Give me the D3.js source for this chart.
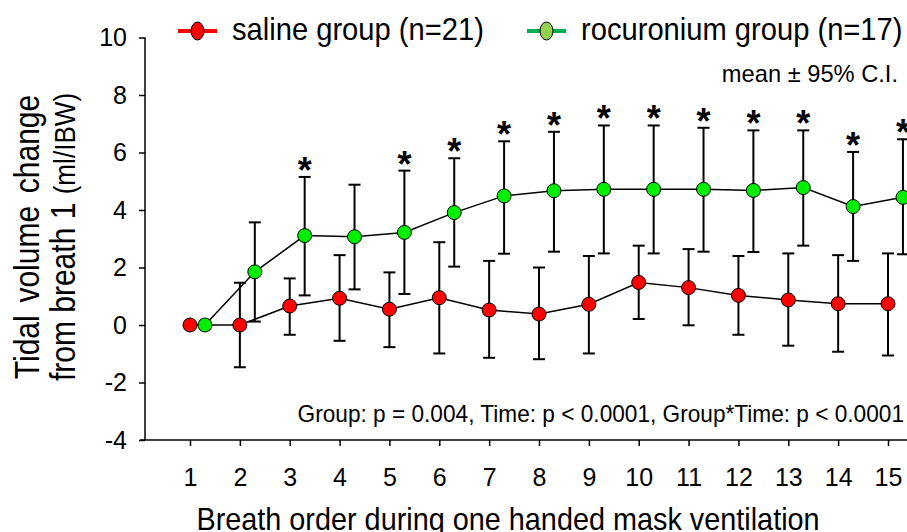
<!DOCTYPE html>
<html>
<head>
<meta charset="utf-8">
<script src="https://cdn.jsdelivr.net/npm/d3@7"></script>
<style>
  body { margin: 0; background: #fff; }
  svg { display: block; font-family: "Liberation Sans", Arial, sans-serif; }
</style>
</head>
<body>
<script>
// breath numbers and group values (ml/IBW, change from breath 1)
const breaths = [1, 2, 3, 4, 5, 6, 7, 8, 9, 10, 11, 12, 13, 14, 15];
const salineMean = [0, 0, 0.66, 0.93, 0.55, 0.95, 0.52, 0.38, 0.72, 1.48, 1.30, 1.03, 0.87, 0.74, 0.74];
const salineLow = [null, -1.47, -0.34, -0.55, -0.77, -0.99, -1.14, -1.19, -0.99, 0.21, -0.01, -0.34, -0.72, -0.93, -1.06];
const salineHigh = [null, 1.47, 1.62, 2.43, 1.83, 2.88, 2.23, 2.00, 2.40, 2.76, 2.64, 2.40, 2.49, 2.43, 2.49];
const rocMean = [0, 1.85, 3.11, 3.07, 3.22, 3.91, 4.49, 4.67, 4.72, 4.72, 4.72, 4.68, 4.78, 4.12, 4.44];
const rocLow = [null, 0.12, 1.03, 1.24, 1.08, 2.03, 2.48, 2.55, 2.49, 2.49, 2.55, 2.54, 2.76, 2.23, 2.46];
const rocHigh = [null, 3.57, 5.15, 4.88, 5.37, 5.80, 6.39, 6.72, 6.94, 6.94, 6.86, 6.77, 6.77, 6.02, 6.46];
const significant = [3, 5, 6, 7, 8, 9, 10, 11, 12, 13, 14, 15];
const yTicks = [-4, -2, 0, 2, 4, 6, 8, 10];

const width = 907, height = 532;
const svg = d3.select("body").append("svg").attr("width", width).attr("height", height);

const x = d3.scaleLinear().domain([1, 15]).range([190, 888]);
const y = d3.scaleLinear().domain([-4, 10]).range([440, 37.5]);
const shift = 0.3; // rocuronium points are drawn a little to the right

function series(mean, low, high, dx) {
  return breaths.map((b, i) => ({ b: b + dx, m: mean[i], lo: low[i], hi: high[i] }));
}
const saline = series(salineMean, salineLow, salineHigh, 0);
const roc = series(rocMean, rocLow, rocHigh, shift);

// text that is a bit taller than it is wide, like the original
function label(parent, tx, ty, str, size, sx, anchor) {
  return parent.append("text")
    .attr("transform", `translate(${tx},${ty}) scale(${sx},1)`)
    .attr("text-anchor", anchor || "start")
    .attr("font-size", size).text(str);
}

// axes
const yAxis = svg.append("g").attr("transform", "translate(145,0)")
  .call(d3.axisLeft(y).tickValues(yTicks).tickSize(6).tickPadding(12).tickFormat(d => String(d)));
yAxis.select(".domain").attr("d", `M0,${y(10)}V${y(-4)}`).attr("stroke", "#000").attr("stroke-width", 1.5);
yAxis.selectAll(".tick line").attr("stroke-width", 1.5);
yAxis.selectAll(".tick text").attr("font-size", 25).attr("fill", "#000");

const xAxis = svg.append("g").attr("transform", "translate(0,440)")
  .call(d3.axisBottom(x).tickValues(breaths).tickSize(6).tickPadding(22));
xAxis.select(".domain").attr("d", "M140,0H907").attr("stroke", "#000").attr("stroke-width", 1.5);
xAxis.selectAll(".tick line").attr("stroke-width", 1.5);
xAxis.selectAll(".tick text").attr("font-size", 25).attr("fill", "#000");

// connecting lines
const line = d3.line().x(d => x(d.b)).y(d => y(d.m));
[saline, roc].forEach(s => {
  svg.append("path").datum(s).attr("d", line)
    .attr("fill", "none").attr("stroke", "#000").attr("stroke-width", 1.5);
});

// error bars
function errorBars(s) {
  const g = svg.append("g").attr("stroke", "#000").attr("stroke-width", 2);
  const d = s.filter(p => p.lo !== null);
  g.selectAll("line.v").data(d).join("line")
    .attr("x1", p => x(p.b)).attr("x2", p => x(p.b))
    .attr("y1", p => y(p.lo)).attr("y2", p => y(p.hi));
  g.selectAll("line.hi").data(d).join("line")
    .attr("x1", p => x(p.b) - 6).attr("x2", p => x(p.b) + 6)
    .attr("y1", p => y(p.hi)).attr("y2", p => y(p.hi));
  g.selectAll("line.lo").data(d).join("line")
    .attr("x1", p => x(p.b) - 6).attr("x2", p => x(p.b) + 6)
    .attr("y1", p => y(p.lo)).attr("y2", p => y(p.lo));
}
errorBars(saline);
errorBars(roc);

// markers
svg.append("g").selectAll("circle").data(saline).join("circle")
  .attr("cx", p => x(p.b)).attr("cy", p => y(p.m)).attr("r", 7)
  .attr("fill", "#ff0000").attr("stroke", "#000").attr("stroke-width", 1);
svg.append("g").selectAll("circle").data(roc).join("circle")
  .attr("cx", p => x(p.b)).attr("cy", p => y(p.m)).attr("r", 7)
  .attr("fill", "#00ee00").attr("stroke", "#000").attr("stroke-width", 1);

// significance stars
svg.append("g").selectAll("text").data(roc.filter(p => significant.includes(p.b - shift)))
  .join("text")
  .attr("x", p => x(p.b)).attr("y", p => y(p.hi) + 6)
  .attr("text-anchor", "middle").attr("font-size", 36).attr("font-weight", "bold")
  .text("*");

// legend
const legend = [
  { label: "saline group (n=21)", line: "#ff0000", fill: "#ff0000", x: 178 },
  { label: "rocuronium group (n=17)", line: "#00b050", fill: "#92d050", x: 527 }
];
const lg = svg.append("g").selectAll("g").data(legend).join("g")
  .attr("transform", d => `translate(${d.x},31)`);
lg.append("line").attr("x1", 0).attr("x2", 39).attr("stroke", d => d.line).attr("stroke-width", 4);
lg.append("ellipse").attr("cx", 19.5).attr("rx", 6.5).attr("ry", 9)
  .attr("fill", d => d.fill).attr("stroke", "#000").attr("stroke-width", 1);
lg.each(function(d) { label(d3.select(this), 54, 9, d.label, 31, 0.94); });

label(svg, 898, 82, "mean \u00b1 95% C.I.", 23, 1.03, "end");

label(svg, 904, 422, "Group: p = 0.004, Time: p < 0.0001, Group*Time: p < 0.0001", 23, 0.985, "end");

// axis titles
const yt = svg.append("text").attr("transform", "translate(39,237) rotate(-90) scale(0.87,1)")
  .attr("text-anchor", "middle").attr("font-size", 34.5);
yt.append("tspan").attr("x", 0).attr("dy", 0).attr("word-spacing", 5).text("Tidal volume change");
const yt2 = yt.append("tspan").attr("x", 0).attr("dy", 36);
yt2.append("tspan").text("from breath 1 ");
yt2.append("tspan").attr("font-size", 30).text("(ml/IBW)");

label(svg, 508, 530, "Breath order during one handed mask ventilation", 31, 0.93, "middle");
</script>
</body>
</html>
